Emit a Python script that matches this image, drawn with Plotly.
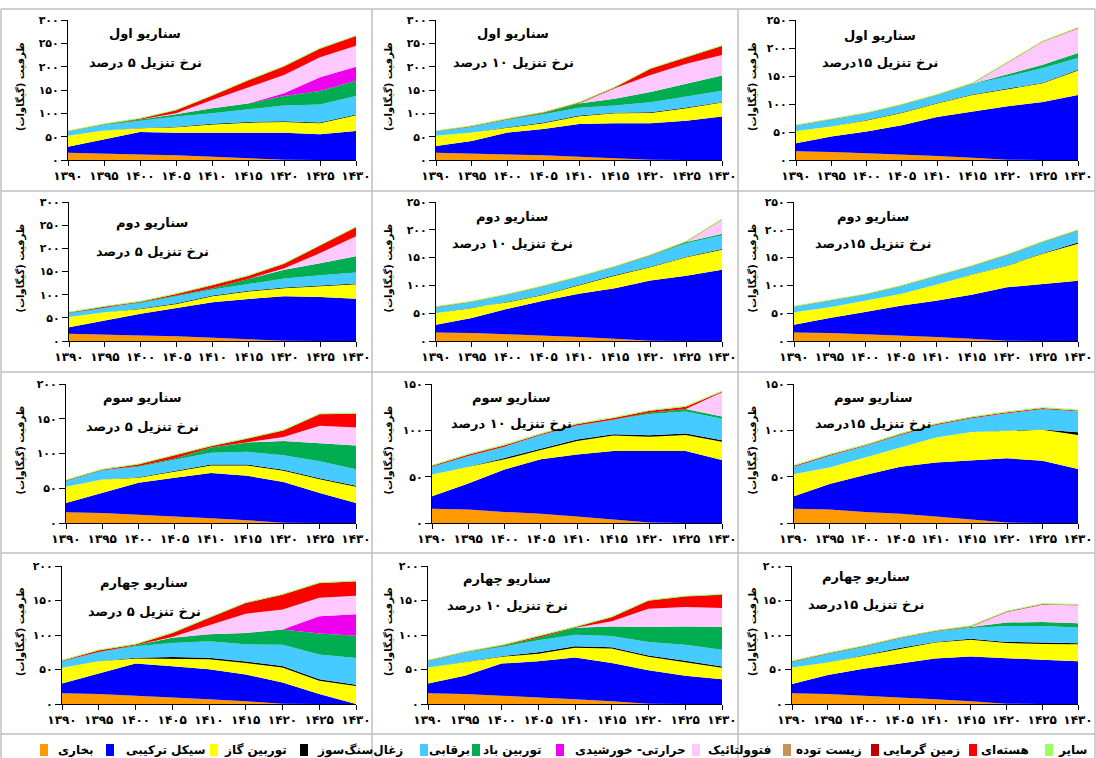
import plotly.graph_objects as go

# ---------------- data ----------------
years = [1390, 1395, 1400, 1405, 1410, 1415, 1420, 1425, 1430]
year_labels = ["۱۳۹۰", "۱۳۹۵", "۱۴۰۰", "۱۴۰۵", "۱۴۱۰", "۱۴۱۵", "۱۴۲۰", "۱۴۲۵", "۱۴۳۰"]
y_tick_vals = [0, 50, 100, 150, 200, 250, 300]
y_tick_labels = ["۰", "۵۰", "۱۰۰", "۱۵۰", "۲۰۰", "۲۵۰", "۳۰۰"]

series_keys = ["steam", "cc", "gt", "coal", "hydro", "wind", "solar_th",
               "pv", "biomass", "geo", "nuclear", "other"]
series_names = ["بخاری", "سیکل ترکیبی", "توربین گاز", "زغال‌سنگ‌سوز", "برقابی",
                "توربین باد", "حرارتی- خورشیدی", "فتوولتائیک", "زیست توده",
                "زمین گرمایی", "هسته‌ای", "سایر"]
series_colors = ["#FF9900", "#0000FF", "#FFFF00", "#000000", "#45CBFF", "#00AD50",
                 "#EE00EE", "#FFC8FF", "#C8915A", "#C00000", "#FF0000", "#99FF66"]

# steam plants (same in every scenario)
steam = [15.5, 14.5, 12, 10, 7, 4, 0.5, 0, 0]

# Scenario 1
s1_d5 = {
    "cc":      [13, 29.5, 48, 48.6, 51.6, 56, 58, 55, 62],
    "gt":      [23.4, 19, 8, 11.4, 17.4, 20, 23, 23.6, 34],
    "coal":    [0, 0, 0.5, 1.5, 1.5, 1.5, 1.5, 1.5, 1.5],
    "hydro":   [9, 12, 15.5, 21.5, 22.5, 27, 34, 39, 39.5],
    "wind":    [0, 1, 3, 5, 11, 12.4, 20, 29, 33],
    "solar_th": [0, 0, 0, 0, 0, 0, 6, 29, 30],
    "pv":      [0, 0, 0, 2, 17.6, 35, 39, 43, 45],
    "nuclear": [1, 1, 2, 7, 9.4, 15, 19, 19, 21],
    "other":   [0.3, 0.3, 0.3, 0.3, 0.3, 0.3, 0.3, 0.3, 0.3],
}
s1_d10 = {
    "cc":      [14.5, 26.2, 47, 56.4, 70, 74.6, 78, 84, 93],
    "gt":      [22, 18.3, 10, 12.2, 17, 21.4, 22.4, 27, 30],
    "coal":    [0, 0, 1, 1.5, 1.5, 1.5, 1.5, 1.5, 1.5],
    "hydro":   [9, 12, 16, 18, 16.5, 15.5, 21.5, 23.5, 24],
    "wind":    [0, 0.5, 1, 2, 9, 14, 22, 27, 32.4],
    "pv":      [0, 0, 0, 0, 0, 22.6, 36, 43, 44],
    "nuclear": [1, 1.5, 1.5, 2, 2, 2.4, 14, 15, 20],
    "other":   [0.3, 0.3, 0.3, 0.3, 0.3, 0.3, 0.3, 0.3, 0.3],
}
s1_d15 = {
    "cc":      [14.5, 27.5, 39, 52, 70, 83, 95.5, 103.6, 116],
    "gt":      [22, 18, 19.5, 22, 24, 29, 30.5, 33.4, 44],
    "coal":    [0, 0, 1, 1, 1, 1, 1, 1, 1],
    "hydro":   [9, 12, 11.5, 13, 13.7, 18.5, 21.5, 26.5, 21],
    "wind":    [0, 0, 0, 0, 0, 0.5, 4.6, 5.5, 9],
    "pv":      [0, 0, 0, 0, 0, 0, 20, 41, 44],
    "nuclear": [1, 1, 1, 1, 1, 1, 1, 1, 1],
    "other":   [0.3, 0.3, 0.3, 0.3, 0.3, 0.3, 0.3, 0.3, 0.3],
}
# Scenario 2
s2_d5 = {
    "cc":      [14, 29.5, 47, 61, 76.5, 86.6, 96, 95, 91.4],
    "gt":      [22.5, 18, 10, 9, 13, 16.4, 17.3, 23.7, 31],
    "coal":    [0, 0, 1, 1.5, 1.5, 1.5, 1.5, 1.5, 1.5],
    "hydro":   [8.4, 10.7, 12, 15, 13, 14.5, 19.8, 21.5, 24],
    "wind":    [0, 0, 1.5, 1.5, 3, 11, 18.6, 26, 35],
    "pv":      [0, 0, 0, 0, 0, 0, 3.5, 22, 43],
    "nuclear": [1.5, 2, 2, 4, 7, 7, 10, 16, 20],
    "other":   [0.3, 0.3, 0.3, 0.3, 0.3, 0.3, 0.3, 0.3, 0.3],
}
s2_d10 = {
    "cc":      [13.9, 26.9, 46, 62.5, 78, 91, 108.5, 117.5, 128],
    "gt":      [21, 18, 11.5, 10.2, 15, 22.5, 23.5, 33, 36.3],
    "coal":    [0, 0, 1, 1, 1, 1, 1, 1, 1],
    "hydro":   [10, 10.6, 12.5, 14.3, 14, 14.5, 20, 24.5, 24.7],
    "wind":    [0, 0, 0, 0, 0, 0, 0, 2, 3],
    "pv":      [0, 0, 0, 0, 0, 0, 0, 0, 25],
    "nuclear": [1, 1, 1, 1, 1, 1, 1, 1, 1],
    "other":   [0.3, 0.3, 0.3, 0.3, 0.3, 0.3, 0.3, 0.3, 0.3],
}
s2_d15 = {
    "cc":      [13.9, 26.9, 40, 53.5, 65.5, 79, 96, 103, 108.5],
    "gt":      [22.2, 19.1, 20.5, 21, 28.5, 36, 38.5, 54, 66.5],
    "coal":    [0, 0, 0, 0, 0, 0.5, 0.5, 1, 2],
    "hydro":   [9.4, 12, 10.5, 13.5, 15, 14.5, 18.5, 19.5, 21.5],
    "nuclear": [1, 1, 1, 1, 1, 1, 1, 1, 1],
    "other":   [0.3, 0.3, 0.3, 0.3, 0.3, 0.3, 0.3, 0.3, 0.3],
}
# Scenario 3
s3_d5 = {
    "cc":      [13.3, 28.5, 46, 55, 65, 64, 58.5, 43, 28.8],
    "gt":      [23.2, 19.5, 7, 8.5, 10.7, 14.7, 16, 20, 23.2],
    "coal":    [0, 0, 1, 1.5, 1.5, 1.5, 1.5, 1.5, 1.5],
    "hydro":   [8.6, 13.5, 15, 16, 16.8, 18.2, 21, 24.5, 23.9],
    "wind":    [0, 0, 1, 1.8, 7.7, 13.6, 20.4, 25.4, 34.1],
    "pv":      [0, 0, 0, 0, 0, 0.3, 6, 25.6, 26],
    "nuclear": [1, 1, 2.6, 4.8, 2, 5.3, 9.6, 16.7, 20.2],
    "other":   [0.3, 0.3, 0.3, 0.3, 0.3, 0.3, 0.3, 0.3, 0.3],
}
s3_d10 = {
    "cc":      [13.5, 28, 45.8, 58.7, 67, 73.7, 77.2, 77.7, 68],
    "gt":      [23.4, 18.2, 10.9, 10.1, 14.5, 16.6, 15.5, 17.3, 19.8],
    "coal":    [0, 0, 1.5, 1.5, 1.5, 1.5, 1.5, 1.5, 1.5],
    "hydro":   [8.3, 11.6, 12.2, 14.7, 15.2, 15.5, 22.8, 23.8, 23.1],
    "wind":    [0, 0, 0, 0, 0, 0, 1.5, 2.7, 2.6],
    "pv":      [0, 0, 0, 0, 0, 0, 0, 0, 26],
    "nuclear": [1, 1.5, 1.5, 1, 1.5, 2, 2, 2.5, 1],
    "other":   [0.5, 0.5, 0.5, 0.5, 0.5, 0.5, 0.5, 0.5, 0.5],
}
s3_d15 = {
    "cc":      [13.5, 27.5, 39.7, 50.7, 58.4, 64, 69.3, 67.2, 58.2],
    "gt":      [23.8, 18, 19.1, 21, 26.8, 30.3, 29.6, 33.3, 36.8],
    "coal":    [0, 0, 0, 0, 0, 0, 0.3, 0.5, 3],
    "hydro":   [7.9, 12.6, 12.2, 13.3, 13.6, 14.7, 18.8, 22, 22.5],
    "nuclear": [1, 1, 1, 1, 1, 1, 1, 1, 1],
    "other":   [0.5, 0.5, 0.5, 0.5, 0.5, 0.5, 0.5, 0.5, 0.5],
}
# Scenario 4
s4_d5 = {
    "cc":      [14.3, 29.5, 46.6, 44.8, 43.5, 38.8, 30.75, 14.4, 0],
    "gt":      [22.6, 18, 7.4, 11.2, 14.5, 16.8, 21.75, 19.3, 26],
    "coal":    [0, 0, 1, 2, 2, 2, 2, 2, 2],
    "hydro":   [9.6, 13.5, 16.7, 20.5, 24, 24.9, 31, 35.9, 38.8],
    "wind":    [0, 0, 1.3, 7.5, 10, 16.5, 22, 30.4, 32.2],
    "solar_th": [0, 0, 0, 0, 0, 0, 0, 25, 31],
    "pv":      [0, 0, 0, 1, 13, 27.8, 29, 27, 27],
    "nuclear": [1, 2.5, 1.5, 6, 11, 15.8, 21.6, 21.5, 21],
    "other":   [0.3, 0.3, 0.3, 0.3, 0.3, 0.3, 0.3, 0.3, 0.3],
}
s4_d10 = {
    "cc":      [14.3, 26.4, 46.6, 52, 60.3, 55.6, 48.5, 40.9, 36],
    "gt":      [23.1, 20.1, 9.7, 11, 14.4, 20.7, 19.3, 19.7, 16.4],
    "coal":    [0, 0, 1, 2, 2, 2, 2, 2, 2],
    "hydro":   [9.1, 13.5, 13.4, 17.3, 16.8, 16.3, 19.7, 23.4, 24.4],
    "wind":    [0, 0, 1.3, 3.7, 10.1, 13.9, 21.5, 26.5, 32.7],
    "pv":      [0, 0, 0, 0, 0, 7.5, 26.5, 27.9, 27.5],
    "nuclear": [1, 1, 1, 2, 1, 6, 12, 15.6, 19.6],
    "other":   [0.3, 0.3, 0.3, 0.3, 0.3, 0.3, 0.3, 0.3, 0.3],
}
s4_d15 = {
    "cc":      [13.5, 27.5, 39, 49, 59, 65, 65.5, 64, 62],
    "gt":      [24, 18, 19, 21, 23, 24, 22.5, 23, 24.5],
    "coal":    [0, 0, 0.5, 1, 1, 1.5, 1.5, 1.5, 1.5],
    "hydro":   [8, 12.6, 12.5, 14, 15, 15.5, 23, 24.5, 23],
    "wind":    [0, 0, 0, 0, 0, 1, 5, 6, 6],
    "pv":      [0, 0, 0, 0, 0, 1, 15, 25, 26],
    "nuclear": [1, 1, 1, 1, 1, 1, 1, 1, 1],
    "other":   [0.3, 0.3, 0.3, 0.3, 0.3, 0.3, 0.3, 0.3, 0.3],
}

scenario_titles = ["سناریو اول", "سناریو دوم", "سناریو سوم", "سناریو چهارم"]
rate_titles = ["نرخ تنزیل ۵ درصد", "نرخ تنزیل ۱۰ درصد", "نرخ تنزیل ۱۵درصد"]
y_title = "ظرفیت (گیگاوات)\u200f"
panel_data = [s1_d5, s1_d10, s1_d15, s2_d5, s2_d10, s2_d15,
              s3_d5, s3_d10, s3_d15, s4_d5, s4_d10, s4_d15]
panel_ymax = [300, 300, 250, 300, 250, 250, 200, 150, 150, 200, 200, 200]

# ---------------- layout (pixel geometry) ----------------
W, H = 1096, 758
FONT = "DejaVu Sans"


def px(x):
    return x / W


def py(y):
    return 1 - y / H


plot_left = [[68, 436, 796], [69, 436, 794], [66, 432, 794], [62, 428, 792]]
plot_right = [356, 722, 1078]
plot_tb = [(20, 160), (202, 341), (384, 523), (566, 704)]
ytitle_x = [20, 388, 752]
# annotation centres (x, y1, y2)
ann_pos = [
    [(145, 33, 62), (513, 33, 62), (880, 35, 62)],
    [(152, 223, 251), (512, 217, 243), (873, 217, 243)],
    [(142, 398, 426), (511, 398, 423), (873, 398, 423)],
    [(144, 583, 611), (507, 579, 605), (866, 577, 604)],
]

fig = go.Figure()
annotations = []
shapes = []

for i, data in enumerate(panel_data):
    r, c = divmod(i, 3)
    sfx = "" if i == 0 else str(i + 1)
    xa, ya = "x" + sfx, "y" + sfx
    zeros = [0] * len(years)
    for k, key in enumerate(series_keys):
        vals = steam if key == "steam" else data.get(key, zeros)
        fig.add_trace(go.Scatter(
            x=years, y=vals, xaxis=xa, yaxis=ya,
            stackgroup="g%d" % i, mode="lines",
            line=dict(width=1 if key == "other" else 0, color=series_colors[k]),
            fillcolor=series_colors[k], name=series_names[k],
            showlegend=False, hoverinfo="skip"))
    ymax = panel_ymax[i]
    tv = [v for v in y_tick_vals if v <= ymax]
    tt = y_tick_labels[:len(tv)]
    top, bot = plot_tb[r]
    fig.layout["xaxis" + sfx] = dict(
        domain=[px(plot_left[r][c]), px(plot_right[c])], anchor=ya,
        range=[1390, 1430], tickmode="array", tickvals=years, ticktext=year_labels,
        ticks="outside", ticklen=5, tickcolor="black", tickwidth=1,
        showline=True, linecolor="black", linewidth=1, automargin=False,
        ticklabeloverflow="allow",
        showgrid=False, zeroline=False, fixedrange=True,
        tickfont=dict(family=FONT, size=12, color="black", weight="bold"))
    fig.layout["yaxis" + sfx] = dict(
        domain=[py(bot), py(top)], anchor=xa,
        range=[0, ymax], tickmode="array", tickvals=tv, ticktext=tt,
        ticks="outside", ticklen=6, tickcolor="black", tickwidth=1,
        showline=True, linecolor="black", linewidth=1, automargin=False,
        ticklabeloverflow="allow",
        showgrid=False, zeroline=False, fixedrange=True,
        tickfont=dict(family=FONT, size=11, color="black", weight="bold"))
    ax_, a1, a2 = ann_pos[r][c]
    annotations.append(dict(x=px(ax_), y=py(a1), xref="paper", yref="paper",
                            xanchor="center", yanchor="middle",
                            text=scenario_titles[r], showarrow=False,
                            font=dict(family=FONT, size=13, color="black", weight="bold")))
    annotations.append(dict(x=px(ax_), y=py(a2), xref="paper", yref="paper",
                            xanchor="center", yanchor="middle",
                            text=rate_titles[c], showarrow=False,
                            font=dict(family=FONT, size=13, color="black", weight="bold")))
    annotations.append(dict(x=px(ytitle_x[c]), y=py((top + bot) / 2 - 3),
                            xref="paper", yref="paper",
                            xanchor="center", yanchor="middle",
                            text=y_title, textangle=-90, showarrow=False,
                            font=dict(family=FONT, size=10, color="black", weight="bold")))

# panel borders
border = "#BFBFBF"
for x in [1, 372, 738, 1095]:
    shapes.append(dict(type="line", xref="paper", yref="paper",
                       x0=px(x), x1=px(x), y0=py(9), y1=py(758),
                       line=dict(color=border, width=1.5)))
for y in [9, 191, 372, 553, 734]:
    shapes.append(dict(type="line", xref="paper", yref="paper",
                       x0=px(1), x1=px(1095), y0=py(y), y1=py(y),
                       line=dict(color=border, width=1.5)))

# legend (manual, left-to-right as in the reference)
leg_sq_x = [40, 106, 210, 300, 420, 472, 556, 692, 783, 871, 969, 1045]
leg_tx_x = [56, 124, 222, 315, 427, 481, 573, 706, 794, 881, 979, 1056]
for k in range(len(series_keys)):
    shapes.append(dict(type="rect", xref="paper", yref="paper",
                       x0=px(leg_sq_x[k]), x1=px(leg_sq_x[k] + 8),
                       y0=py(756), y1=py(744),
                       fillcolor=series_colors[k], line=dict(width=0)))
    annotations.append(dict(x=px(leg_tx_x[k]), y=py(750), xref="paper", yref="paper",
                            xanchor="left", yanchor="middle",
                            text=series_names[k] + "\u200f", showarrow=False,
                            font=dict(family=FONT, size=12, color="black", weight="bold")))

fig.update_layout(
    width=W, height=H, margin=dict(l=0, r=0, t=0, b=0, autoexpand=False),
    paper_bgcolor="white", plot_bgcolor="white",
    showlegend=False, annotations=annotations, shapes=shapes,
)

fig.write_html("out.html", config={"displayModeBar": False},
               post_script="document.body.style.margin='0';"
                           "document.body.style.overflow='hidden';")
